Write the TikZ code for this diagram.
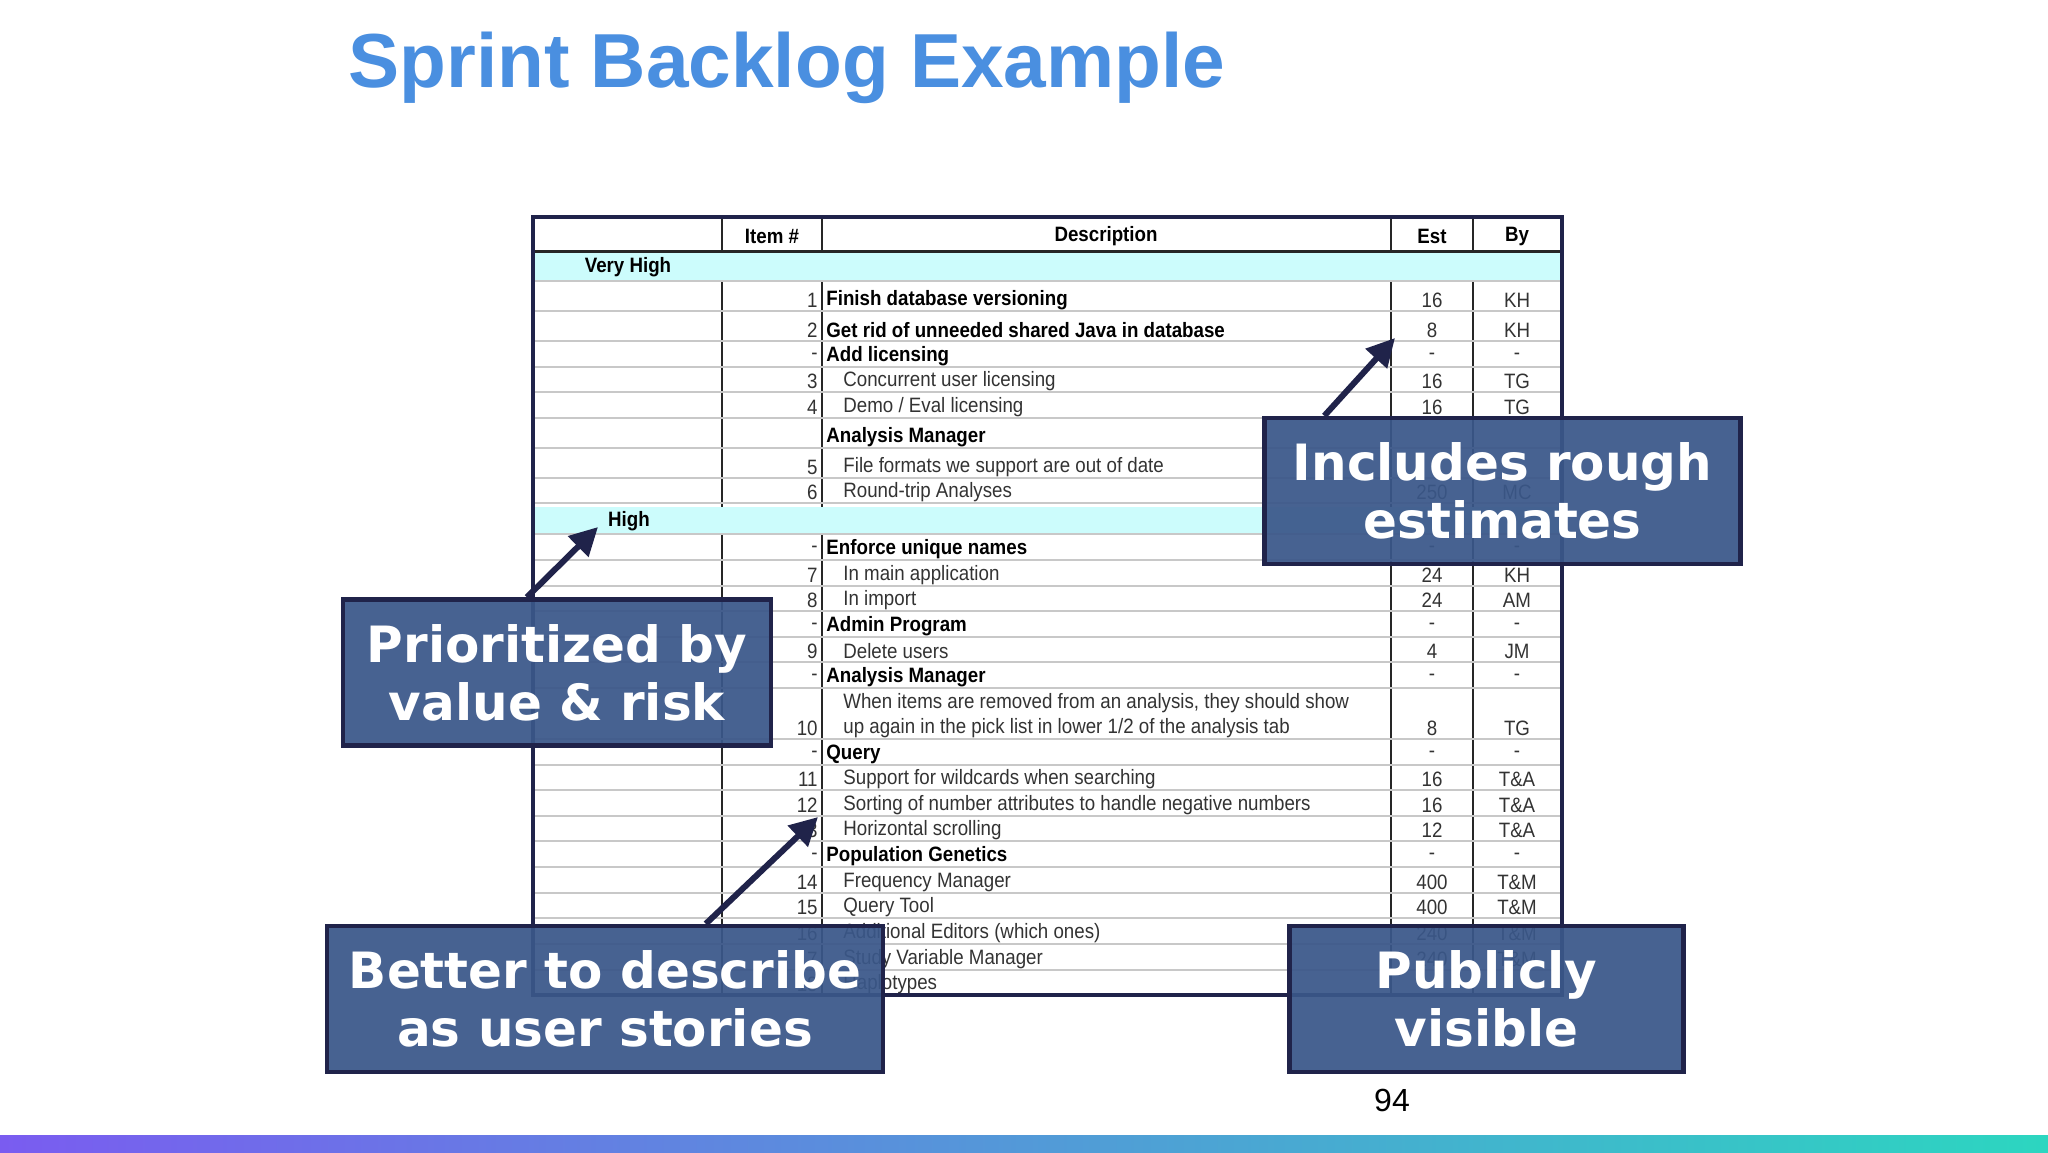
\documentclass[tikz,border=0pt]{standalone}
\usepackage{fontspec}
\setmainfont{Liberation Sans}
\newfontfamily\narrowf[FakeStretch=0.9]{Liberation Sans}
\newfontfamily\callf{DejaVu Sans}
\usetikzlibrary{arrows.meta}
\definecolor{titleblue}{HTML}{4A8FE0}
\definecolor{band}{HTML}{CCFCFC}
\definecolor{navy}{HTML}{20234A}
\definecolor{boxfill}{HTML}{3A5789}
\definecolor{gridgray}{HTML}{C8C8C8}
\definecolor{gradA}{HTML}{7A5CF0}
\definecolor{gradB}{HTML}{2CD6C0}
\tikzset{
 cell/.style={inner sep=0pt,font=\narrowf\fontsize{10.4}{11}\selectfont,text=black!80},
 bcell/.style={cell,font=\narrowf\bfseries\fontsize{10.4}{11}\selectfont,text=black},
 callout/.style={draw=navy,line width=2.2pt,fill=boxfill,fill opacity=0.93,text opacity=1,text=white,
   font=\callf\bfseries\fontsize{25}{29}\selectfont,align=center,inner sep=0pt},
 pointer/.style={navy,line width=3pt,-{Triangle[length=14pt,width=14pt]}}
}
\newcommand\grow[1]{\draw[gridgray,line width=1.2pt] (533,#1+13)--(1562,#1+13);}
\newcommand\hrow[5]{\grow{#1}\node[cell,anchor=east] (n#1) at (818,#1+2) {#2};
 \node[bcell,anchor=west] (d#1) at (826,#1+2) {#3};
 \node[cell] (e#1) at (1432,#1+2) {#4};\node[cell] (b#1) at (1517,#1+2) {#5};}
\newcommand\irow[5]{\grow{#1}\node[cell,anchor=east] (n#1) at (818,#1+2) {#2};
 \node[cell,anchor=west] (d#1) at (843,#1+2) {#3};
 \node[cell] (e#1) at (1432,#1+2) {#4};\node[cell] (b#1) at (1517,#1+2) {#5};}
\begin{document}
\begin{tikzpicture}[x=0.5pt,y=-0.5pt]
\useasboundingbox (0,0) rectangle (2048,1152);
\fill[white] (0,0) rectangle (2048,1152);
\node[anchor=west,text=titleblue,font=\bfseries\fontsize{38.3}{42}\selectfont,inner sep=0pt] (title) at (348,68) {Sprint Backlog Example};
% table
\fill[white] (533,217) rectangle (1562,995);
\foreach \x in {722,822,1391,1473} \draw[black!85,line width=1.2pt] (\x,217)--(\x,995);
\draw[black!85,line width=1.5pt] (533,251)--(1562,251);
\hrow{298}{1}{Finish database versioning}{16}{KH}
\hrow{328}{2}{Get rid of unneeded shared Java in database}{8}{KH}
\hrow{354}{-}{Add licensing}{-}{-}
\irow{379}{3}{Concurrent user licensing}{16}{TG}
\irow{405}{4}{Demo / Eval licensing}{16}{TG}
\hrow{435}{}{Analysis Manager}{}{}
\irow{465}{5}{File formats we support are out of date}{}{}
\irow{490}{6}{Round-trip Analyses}{250}{MC}
\hrow{547}{-}{Enforce unique names}{-}{-}
\irow{573}{7}{In main application}{24}{KH}
\irow{598}{8}{In import}{24}{AM}
\hrow{624}{-}{Admin Program}{-}{-}
\irow{649}{9}{Delete users}{4}{JM}
\hrow{675}{-}{Analysis Manager}{-}{-}
\node[cell,anchor=west] (d701) at (843,703) {When items are removed from an analysis, they should show};
\irow{726}{10}{up again in the pick list in lower 1/2 of the analysis tab}{8}{TG}
\hrow{752}{-}{Query}{-}{-}
\irow{777}{11}{Support for wildcards when searching}{16}{T\&A}
\irow{803}{12}{Sorting of number attributes to handle negative numbers}{16}{T\&A}
\irow{828}{13}{Horizontal scrolling}{12}{T\&A}
\hrow{854}{-}{Population Genetics}{-}{-}
\irow{880}{14}{Frequency Manager}{400}{T\&M}
\irow{905}{15}{Query Tool}{400}{T\&M}
\irow{931}{16}{Additional Editors (which ones)}{240}{T\&M}
\irow{957}{17}{Study Variable Manager}{240}{T\&M}
\node[cell,anchor=east] (n982) at (818,984) {18};
\node[cell,anchor=west] (d982) at (843,984) {Haplotypes};
% bands
\fill[band] (535,253) rectangle (1560,281);
\draw[gridgray,line width=1.2pt] (533,281)--(1562,281);
\fill[band] (535,507) rectangle (1560,534);
\draw[gridgray,line width=1.2pt] (533,534)--(1562,534);
\node[bcell] (vh) at (628,267) {Very High};
\node[bcell] (hi) at (629,521) {High};
% header
\node[bcell] (h1) at (772,236) {Item \#};
\node[bcell] (h2) at (1106,236) {Description};
\node[bcell] (h3) at (1432,236) {Est};
\node[bcell] (h4) at (1517,236) {By};
\draw[navy,line width=2.2pt] (533,217) rectangle (1562,995);
% callouts
\node[callout,minimum width=238pt,minimum height=73pt] (c1) at (1502.5,491) {Includes rough\\estimates};
\node[callout,minimum width=214pt,minimum height=73pt] (c2) at (557,672.5) {Prioritized by\\value \& risk};
\node[callout,minimum width=278pt,minimum height=73pt] (c3) at (605,999) {Better to describe\\as user stories};
\node[callout,minimum width=197pt,minimum height=73pt] (c4) at (1486.5,999) {Publicly\\visible};
\coordinate (t1) at (1395,338);
\coordinate (t2) at (598,527);
\coordinate (t3) at (818,817);
\draw[pointer] (c1.north west) ++(62,0) -- (t1);
\draw[pointer] (c2.north west) ++(186,0) -- (t2);
\draw[pointer] (c3.north west) ++(381,0) -- (t3);
\node[font=\fontsize{16}{18}\selectfont,inner sep=0pt] (pg) at (1392,1100) {94};
\shade[left color=gradA,right color=gradB] (0,1135) rectangle (2048,1152);
\end{tikzpicture}
\end{document}
